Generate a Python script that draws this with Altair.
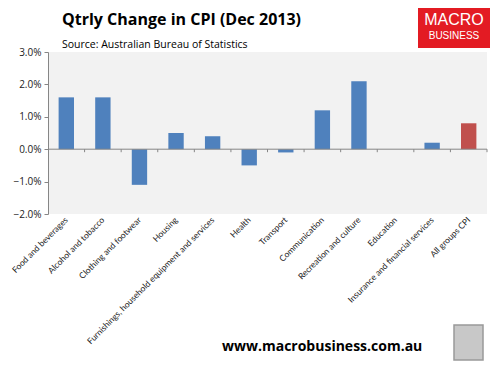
import altair as alt
import pandas as pd

categories = ["Food and beverages", "Alcohol and tobacco", "Clothing and footwear", "Housing",
              "Furnishings, household equipment and services", "Health", "Transport",
              "Communication", "Recreation and culture", "Education",
              "Insurance and financial services", "All groups CPI"]
values = [1.6, 1.6, -1.1, 0.5, 0.4, -0.5, -0.1, 1.2, 2.1, 0.0, 0.2, 0.8]
groups = ["part"] * 11 + ["all"]
yticks = [-2, -1, 0, 1, 2, 3]

df = pd.DataFrame({"cat": categories, "val": values, "grp": groups})

W, H = 439, 162
FONT = "Open Sans"

xenc = alt.X("cat:N", sort=categories, title=None,
             scale=alt.Scale(paddingInner=0.58, paddingOuter=0.29),
             axis=alt.Axis(labelAngle=-45, labelAlign="right", labelBaseline="middle",
                           labelFontSize=8.5, labelFont="Lato", labelColor="#222", labelPadding=4,
                           domain=False, ticks=False, labelLimit=300, labelOverlap=False))
yscale = alt.Scale(domain=[-2, 3], nice=False, zero=False)
yaxis = alt.Axis(values=yticks, labelExpr="format(datum.value, '.1f') + '%'",
                 grid=False, domainColor="#868686", tickColor="#868686", tickSize=4,
                 labelFontSize=10, labelFont=FONT, labelColor="#222", labelPadding=3,
                 labelOverlap=False, labelFlush=False)

bars = alt.Chart(df).mark_bar().encode(
    x=xenc, y=alt.Y("val:Q", title=None, scale=yscale, axis=yaxis),
    color=alt.Color("grp:N", scale=alt.Scale(domain=["part", "all"], range=["#4f81bd", "#c0504d"]),
                    legend=None))

zero = alt.Chart(pd.DataFrame({"val": [0]})).mark_rule(color="#868686").encode(
    y=alt.Y("val:Q", title=None, scale=yscale, axis=yaxis), x=alt.value(0), x2=alt.value(W))

ticks = alt.Chart(df).mark_rule(color="#868686", xOffset=W / 24).encode(
    x=alt.X("cat:N", sort=categories), y=alt.value(H * 0.6), y2=alt.value(H * 0.6 + 3))

def txt(s, x, y, size, bold=False, color="#000", align="left", font=FONT):
    return alt.Chart(pd.DataFrame({"t": [s]})).mark_text(
        fontSize=size, fontWeight="bold" if bold else "normal", color=color, align=align,
        baseline="middle", font=font).encode(text="t:N", x=alt.value(x), y=alt.value(y))

title = txt("Qtrly Change in CPI (Dec 2013)", 14, -32, 16, True)
sub = txt("Source: Australian Bureau of Statistics", 14, -7, 10.5)
web = txt("www.macrobusiness.com.au", 174, 295, 14, True)

logo = alt.Chart(pd.DataFrame({"a": [0]})).mark_rect(color="#e31b23").encode(
    x=alt.value(370), x2=alt.value(442), y=alt.value(-47), y2=alt.value(-4))
logo1 = txt("MACRO", 406, -32, 16, False, "white", "center", "Liberation Sans")
logo2 = txt("BUSINESS", 406, -16, 10, False, "white", "center", "Liberation Sans")

fox = alt.Chart(pd.DataFrame({"a": [0]})).mark_rect(color="#c8c8c8", stroke="#999", strokeWidth=1.5).encode(
    x=alt.value(406), x2=alt.value(435), y=alt.value(273), y2=alt.value(308))

chart = alt.layer(bars, zero, ticks, title, sub, web, logo, logo1, logo2, fox).properties(
    width=W, height=H,
    autosize=alt.AutoSizeParams(type="none"),
    padding={"left": 40, "top": 44, "right": 3, "bottom": 150},
    background="white",
).configure_view(fill="#f2f2f2", stroke=None)

chart.save("out.html", embed_options={"renderer": "svg", "actions": False})
